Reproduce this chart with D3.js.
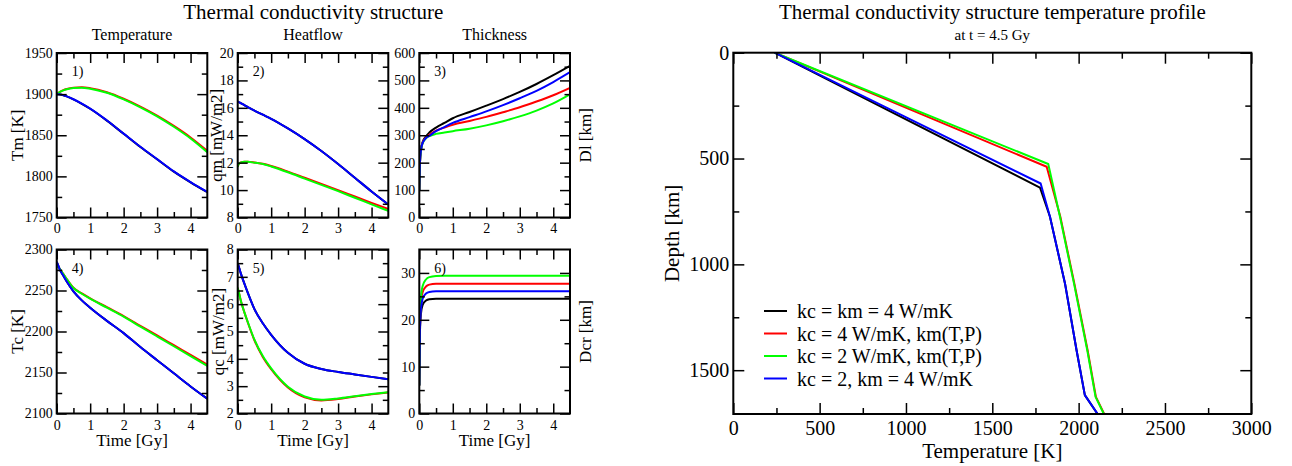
<!DOCTYPE html>
<html>
<head>
<meta charset="utf-8">
<script src="https://cdn.jsdelivr.net/npm/d3@7"></script>
<style>
  body { margin: 0; background: #fff; }
  svg { display: block; font-family: "Liberation Serif", "Times New Roman", serif; }
</style>
</head>
<body>
<svg id="chart" width="1292" height="466"></svg>
<script>
// ---- shared time axis (Gy) ----
const time = [0, 0.02, 0.05, 0.1, 0.2, 0.3, 0.5, 0.75, 1, 1.5, 2, 2.5, 3, 3.5, 4, 4.5];

// ---- 1) mantle temperature Tm [K] ----
const tmBlack = [1900, 1900, 1899.9, 1899.6, 1898.6, 1897.2, 1893.6, 1888.2, 1882.2, 1867.8, 1851.8, 1835.8, 1820.8, 1805.8, 1792.8, 1780.8];
const tmRed   = [1900, 1900.6, 1901.5, 1902.8, 1904.8, 1906.2, 1907.9, 1908.4, 1907.3, 1902.3, 1894.4, 1884.8, 1873.8, 1861.3, 1847.3, 1831];
const tmGreen = [1900, 1900.5, 1901.3, 1902.6, 1904.5, 1905.9, 1907.5, 1907.8, 1906.6, 1901.6, 1893.6, 1884, 1873, 1860.3, 1846.1, 1829.4];
const tmBlue  = [1900, 1900, 1900, 1899.7, 1898.7, 1897.3, 1893.8, 1888.4, 1882.4, 1868, 1852, 1836, 1821, 1806, 1793, 1781];

// ---- 2) mantle heat flow qm [mW/m2] ----
const qmBlack = [16.45, 16.43, 16.4, 16.33, 16.2, 16.05, 15.8, 15.5, 15.2, 14.5, 13.72, 12.85, 11.9, 10.9, 9.9, 8.95];
const qmRed   = [11.7, 11.85, 11.95, 12.02, 12.07, 12.07, 12.02, 11.92, 11.76, 11.35, 10.9, 10.45, 10.0, 9.53, 9.07, 8.62];
const qmGreen = [11.7, 11.85, 11.95, 12.02, 12.06, 12.06, 12.0, 11.9, 11.72, 11.3, 10.84, 10.38, 9.92, 9.44, 8.96, 8.48];
const qmBlue  = [16.45, 16.43, 16.4, 16.33, 16.2, 16.05, 15.8, 15.5, 15.2, 14.5, 13.72, 12.85, 11.9, 10.9, 9.9, 8.95];

// ---- 3) lithosphere thickness Dl [km] ----
const dlBlack = [100, 200, 248, 275, 296, 310, 328, 345, 362, 385, 408, 432, 458, 487, 519, 553];
const dlRed   = [100, 200, 246, 273, 292, 302, 317, 328, 338, 352, 367, 384, 402, 423, 446, 473];
const dlGreen = [100, 200, 244, 271, 289, 297, 305, 310, 315, 324, 336, 351, 369, 390, 416, 449];
const dlBlue  = [100, 200, 245, 272, 290, 298, 315, 330, 345, 366, 387, 410, 435, 462, 494, 530];

// ---- 4) core temperature Tc [K] ----
const tcBlack = [2285, 2283, 2280, 2275, 2268, 2261, 2249, 2238, 2229, 2213, 2198, 2181, 2165, 2149, 2133, 2118];
const tcRed   = [2281, 2280, 2278.5, 2276, 2270, 2264, 2253.5, 2246.5, 2240.5, 2229.6, 2218.8, 2207, 2195.2, 2183.3, 2171.4, 2159.5];
const tcGreen = [2281, 2280, 2278.5, 2276, 2270, 2264, 2253, 2246, 2240, 2229, 2218, 2206, 2194, 2182, 2170, 2158];
const tcBlue  = [2285, 2283, 2280, 2275, 2268, 2261, 2249, 2238, 2229, 2213, 2198, 2181, 2165, 2149, 2133, 2118];

// ---- 5) core heat flow qc [mW/m2] ----
const qcBlack = [7.5, 7.42, 7.3, 7.1, 6.75, 6.42, 5.82, 5.3, 4.88, 4.22, 3.82, 3.63, 3.52, 3.43, 3.34, 3.25];
const qcRed   = [6.6, 6.5, 6.35, 6.1, 5.7, 5.34, 4.68, 4.07, 3.62, 2.95, 2.59, 2.48, 2.53, 2.62, 2.7, 2.77];
const qcGreen = [6.6, 6.5, 6.35, 6.1, 5.7, 5.35, 4.7, 4.1, 3.65, 2.98, 2.62, 2.5, 2.55, 2.63, 2.71, 2.78];
const qcBlue  = [7.5, 7.42, 7.3, 7.1, 6.75, 6.42, 5.82, 5.3, 4.88, 4.22, 3.82, 3.63, 3.52, 3.43, 3.34, 3.25];

// ---- 6) crust thickness Dcr [km] ----
const dcrBlack = [6, 17.5, 21.3, 23.2, 24.1, 24.4, 24.5, 24.5, 24.5, 24.5, 24.5, 24.5, 24.5, 24.5, 24.5, 24.5];
const dcrRed   = [6, 18.5, 23.5, 25.9, 27.1, 27.5, 27.68, 27.7, 27.7, 27.7, 27.7, 27.7, 27.7, 27.7, 27.7, 27.7];
const dcrGreen = [6, 19, 24.6, 27.2, 28.6, 29.1, 29.35, 29.4, 29.4, 29.4, 29.4, 29.4, 29.4, 29.4, 29.4, 29.4];
const dcrBlue  = [6, 18, 22.3, 24.5, 25.6, 25.95, 26.08, 26.1, 26.1, 26.1, 26.1, 26.1, 26.1, 26.1, 26.1, 26.1];

// ---- temperature profile at t = 4.5 Gy ----
const profBlackT = [240, 1776, 1834, 1921, 1988, 2036, 2110];
const profBlackD = [0, 637, 775, 1090, 1406, 1618, 1707];
const profRedT   = [240, 1815, 1894, 1975, 2052, 2100, 2148];
const profRedD   = [0, 539, 775, 1090, 1406, 1626, 1707];
const profGreenT = [240, 1824, 1892, 1973, 2050, 2098, 2146];
const profGreenD = [0, 526, 775, 1090, 1406, 1626, 1707];
const profBlueT  = [240, 1780, 1834, 1921, 1988, 2036, 2110];
const profBlueD  = [0, 618, 775, 1090, 1406, 1618, 1707];

// ---- series styling and legend ----
const seriesColors = ["#000000", "#ff0000", "#00ff00", "#0000ff"];
const legendLabels = ["kc = km = 4 W/mK", "kc = 4 W/mK, km(T,P)", "kc = 2 W/mK, km(T,P)", "kc = 2, km = 4 W/mK"];

// ---- tick labels ----
const timeTicks = [0, 1, 2, 3, 4];
const tmTicks = [1750, 1800, 1850, 1900, 1950];
const qmTicks = [8, 10, 12, 14, 16, 18, 20];
const dlTicks = [0, 100, 200, 300, 400, 500, 600];
const tcTicks = [2100, 2150, 2200, 2250, 2300];
const qcTicks = [2, 3, 4, 5, 6, 7, 8];
const dcrTicks = [0, 10, 20, 30];
const tempTicks = [0, 500, 1000, 1500, 2000, 2500, 3000];
const depthTicks = [0, 500, 1000, 1500];

const svg = d3.select("#chart");
svg.append("rect").attr("width", 1292).attr("height", 466).attr("fill", "#fff");
const defs = svg.append("defs");

// draws a boxed frame with inward ticks on all four sides
function frameAxes(g, x, y, o) {
  const [x0, x1] = x.range();
  const [y0, y1] = y.range();
  const fmt = d3.format("d");
  const sides = [
    { axis: d3.axisBottom, tr: `translate(0,${y0})`, sc: x, major: o.xMajor, minor: o.xMinor, label: true, pad: o.xPad },
    { axis: d3.axisTop, tr: `translate(0,${y1})`, sc: x, major: o.xMajor, minor: o.xMinor, label: false },
    { axis: d3.axisLeft, tr: `translate(${x0},0)`, sc: y, major: o.yMajor, minor: o.yMinor, label: true, pad: o.yPad },
    { axis: d3.axisRight, tr: `translate(${x1},0)`, sc: y, major: o.yMajor, minor: o.yMinor, label: false }
  ];
  sides.forEach(s => {
    const ax = g.append("g").attr("transform", s.tr)
      .call(s.axis(s.sc).tickValues(s.major).tickSizeInner(-o.majLen).tickSizeOuter(0)
        .tickPadding(s.label ? s.pad : 0).tickFormat(s.label ? (o.fmt || fmt) : () => ""))
      .attr("font-family", null).attr("font-size", o.tickFont);
    ax.select(".domain").remove();
    ax.selectAll(".tick line").attr("stroke", "#000").attr("stroke-width", o.tickW);
    ax.selectAll(".tick text").attr("fill", "#000");
    const mn = g.append("g").attr("transform", s.tr)
      .call(s.axis(s.sc).tickValues(s.minor).tickSizeInner(-o.minLen).tickSizeOuter(0).tickFormat(() => ""));
    mn.select(".domain").remove();
    mn.selectAll(".tick line").attr("stroke", "#000").attr("stroke-width", o.tickW);
  });
  g.append("rect").attr("x", x0).attr("y", y1).attr("width", x1 - x0).attr("height", y0 - y1)
    .attr("fill", "none").attr("stroke", "#000").attr("stroke-width", o.frameW);
}

function midTicks(ticks, lo, hi) {
  const step = ticks[1] - ticks[0];
  return ticks.map(t => t + step / 2).concat([ticks[0] - step / 2]).filter(v => v > lo && v < hi);
}

// ---- small multiples: evolution over time ----
const colX = [[56.7, 207.3], [237.7, 388.3], [419.3, 570]];
const rowY = [[53, 217.5], [249.5, 413.5]];

const panels = [
  { n: "1)", col: 0, row: 0, dom: [1750, 1950], ticks: tmTicks, series: [tmBlack, tmRed, tmGreen, tmBlue], label: "Tm [K]", labX: 17 },
  { n: "2)", col: 1, row: 0, dom: [8, 20], ticks: qmTicks, series: [qmBlack, qmRed, qmGreen, qmBlue], label: "qm [mW/m2]", labX: 216 },
  { n: "3)", col: 2, row: 0, dom: [0, 600], ticks: dlTicks, series: [dlBlack, dlRed, dlGreen, dlBlue], label: "Dl [km]", labX: 585 },
  { n: "4)", col: 0, row: 1, dom: [2100, 2300], ticks: tcTicks, series: [tcBlack, tcRed, tcGreen, tcBlue], label: "Tc [K]", labX: 17 },
  { n: "5)", col: 1, row: 1, dom: [2, 8], ticks: qcTicks, series: [qcBlack, qcRed, qcGreen, qcBlue], label: "qc [mW/m2]", labX: 218 },
  { n: "6)", col: 2, row: 1, dom: [0, 35], ticks: dcrTicks, series: [dcrBlack, dcrRed, dcrGreen, dcrBlue], label: "Dcr [km]", labX: 585 }
];
const colTitles = ["Temperature", "Heatflow", "Thickness"];

panels.forEach((p, i) => {
  const [l, r] = colX[p.col];
  const [t, b] = rowY[p.row];
  const x = d3.scaleLinear().domain([0, 4.5]).range([l, r]);
  const y = d3.scaleLinear().domain(p.dom).range([b, t]);
  const g = svg.append("g");
  const cid = "clip" + i;
  defs.append("clipPath").attr("id", cid).append("rect")
    .attr("x", l).attr("y", t).attr("width", r - l).attr("height", b - t);

  const line = d3.line().x((d, k) => x(time[k])).y(d => y(d)).curve(d3.curveMonotoneX);
  const cg = g.append("g").attr("clip-path", `url(#${cid})`);
  p.series.forEach((s, k) => {
    cg.append("path").datum(s).attr("d", line).attr("fill", "none")
      .attr("stroke", seriesColors[k]).attr("stroke-width", 2).attr("stroke-linejoin", "round");
  });

  frameAxes(g, x, y, {
    xMajor: timeTicks, xMinor: [0.5, 1.5, 2.5, 3.5],
    yMajor: p.ticks, yMinor: midTicks(p.ticks, p.dom[0], p.dom[1]),
    majLen: 10, minLen: 5.5, tickW: 1.5, frameW: 2, tickFont: 14,
    xPad: p.row === 0 ? 6 : 7, yPad: 4
  });

  g.append("text").attr("x", l + 15).attr("y", t + 23).attr("font-size", 14).text(p.n);

  g.append("text").attr("transform", `translate(${p.labX},${(t + b) / 2}) rotate(-90)`)
    .attr("dy", "0.35em").attr("text-anchor", "middle").attr("font-size", 17).text(p.label);

  if (p.row === 0) {
    g.append("text").attr("x", (l + r) / 2).attr("y", 40).attr("text-anchor", "middle")
      .attr("font-size", 16).text(colTitles[p.col]);
  } else {
    g.append("text").attr("x", (l + r) / 2).attr("y", 446).attr("text-anchor", "middle")
      .attr("font-size", 17).text("Time [Gy]");
  }
});

svg.append("text").attr("x", (colX[0][0] + colX[2][1]) / 2).attr("y", 19).attr("text-anchor", "middle")
  .attr("font-size", 21).text("Thermal conductivity structure");

// ---- temperature–depth profile ----
const pl = 733.3, pr = 1251.3, pt = 52.7, pb = 414;
const xT = d3.scaleLinear().domain([0, 3000]).range([pl, pr]);
const yD = d3.scaleLinear().domain([0, 1707]).range([pt, pb]);
const pg = svg.append("g");
defs.append("clipPath").attr("id", "clipProf").append("rect")
  .attr("x", pl).attr("y", pt).attr("width", pr - pl).attr("height", pb - pt);

const profiles = [[profBlackT, profBlackD], [profRedT, profRedD], [profGreenT, profGreenD], [profBlueT, profBlueD]];
const pcg = pg.append("g").attr("clip-path", "url(#clipProf)");
profiles.forEach(([T, D], k) => {
  const pts = T.map((v, j) => [v, D[j]]);
  pcg.append("path").datum(pts)
    .attr("d", d3.line().x(d => xT(d[0])).y(d => yD(d[1])))
    .attr("fill", "none").attr("stroke", seriesColors[k]).attr("stroke-width", 2).attr("stroke-linejoin", "round");
});

frameAxes(pg, xT, d3.scaleLinear().domain([1707, 0]).range([pb, pt]), {
  xMajor: tempTicks, xMinor: midTicks(tempTicks, 0, 3000),
  yMajor: depthTicks, yMinor: [250, 750, 1250],
  majLen: 11, minLen: 6, tickW: 1.5, frameW: 2, tickFont: 20,
  xPad: 7, yPad: 4
});

pg.append("text").attr("x", (pl + pr) / 2).attr("y", 19).attr("text-anchor", "middle")
  .attr("font-size", 21).text("Thermal conductivity structure temperature profile");
pg.append("text").attr("x", (pl + pr) / 2).attr("y", 40).attr("text-anchor", "middle")
  .attr("font-size", 15).text("at t = 4.5 Gy");
pg.append("text").attr("transform", `translate(672,${(pt + pb) / 2}) rotate(-90)`)
  .attr("dy", "0.35em").attr("text-anchor", "middle").attr("font-size", 21).text("Depth [km]");
pg.append("text").attr("x", (pl + pr) / 2).attr("y", 458).attr("text-anchor", "middle")
  .attr("font-size", 21).text("Temperature [K]");

// legend
const lg = pg.append("g");
legendLabels.forEach((lab, k) => {
  const cy = 311 + k * 22.5;
  lg.append("line").attr("x1", 764).attr("x2", 787).attr("y1", cy).attr("y2", cy)
    .attr("stroke", seriesColors[k]).attr("stroke-width", 2);
  lg.append("text").attr("x", 797).attr("y", cy).attr("dy", "0.35em").attr("font-size", 20).text(lab);
});
</script>
</body>
</html>
